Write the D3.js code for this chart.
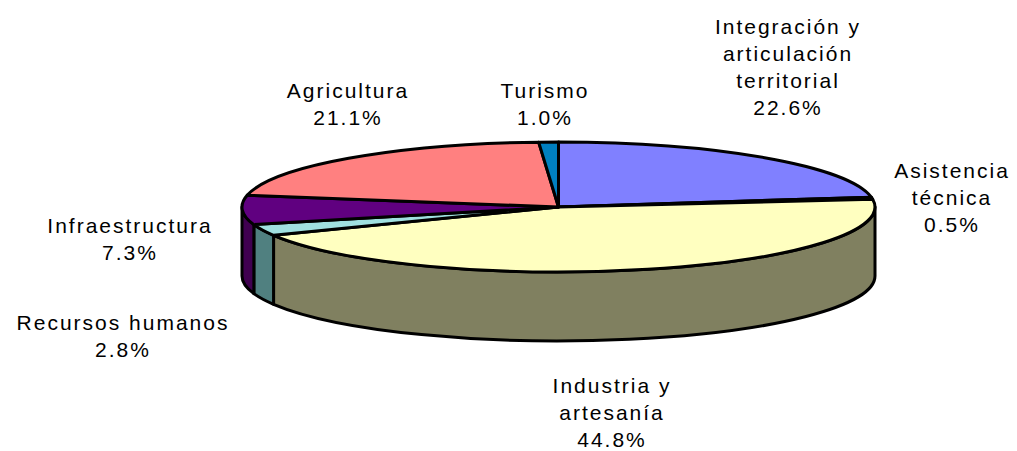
<!DOCTYPE html>
<html>
<head>
<meta charset="utf-8">
<script src="https://cdn.jsdelivr.net/npm/d3@7"></script>
<style>
  html, body { margin: 0; padding: 0; background: #fff; }
  svg { display: block; }
</style>
</head>
<body>
<svg id="chart" width="1017" height="451"></svg>
<script>
// ---- data ----
const categories = ["Integración y articulación territorial", "Asistencia técnica", "Industria y artesanía", "Recursos humanos", "Infraestructura", "Agricultura", "Turismo"];
const values = [22.6, 0.5, 44.8, 2.8, 7.3, 21.1, 1.0];
const labelLines = [["Integración y", "articulación", "territorial"], ["Asistencia", "técnica"], ["Industria y", "artesanía"], ["Recursos humanos"], ["Infraestructura"], ["Agricultura"], ["Turismo"]];
const pctLabels = ["22.6%", "0.5%", "44.8%", "2.8%", "7.3%", "21.1%", "1.0%"];

// ---- styles / layout ----
const topColors  = ["#8080FF", "#802060", "#FFFFC0", "#A0E0E0", "#600080", "#FF8080", "#0080C0"];
const sideColors = ["#404080", "#401030", "#808060", "#508080", "#400050", "#804040", "#004060"];
const labelPos = [[788, 34], [952, 178], [612, 393], [123, 330], [130, 233], [348, 98], [545, 98]];
const lineH = 27;

const cx = 558.5, cy = 207, rx = 316.5, ry = 65, depth = 69;

const svg = d3.select("#chart");
const data = categories.map((c, i) => ({ name: c, value: values[i], i }));
const pie = d3.pie().value(d => d.value).sort(null).startAngle(0).endAngle(2 * Math.PI);
const arcs = pie(data);

const pt = (a, dy = 0) => [cx + rx * Math.sin(a), cy - ry * Math.cos(a) + dy];
const f = p => p[0].toFixed(2) + "," + p[1].toFixed(2);

// outer walls (front half only)
const sides = arcs.map(d => {
  const s = Math.max(d.startAngle, Math.PI / 2);
  const e = Math.min(d.endAngle, 3 * Math.PI / 2);
  return { d, s, e };
}).filter(o => o.e > o.s);

svg.append("g").selectAll("path").data(sides).join("path")
  .attr("d", o => {
    const p0 = pt(o.s), p1 = pt(o.e), q1 = pt(o.e, depth), q0 = pt(o.s, depth);
    return `M${f(p0)}A${rx},${ry} 0 0 1 ${f(p1)}L${f(q1)}A${rx},${ry} 0 0 0 ${f(q0)}Z`;
  })
  .attr("fill", o => sideColors[o.d.data.i])
  .attr("stroke", "#000").attr("stroke-width", 3).attr("stroke-linejoin", "round");

// top faces
svg.append("g").selectAll("path").data(arcs).join("path")
  .attr("d", d => {
    const large = (d.endAngle - d.startAngle) > Math.PI ? 1 : 0;
    return `M${cx},${cy}L${f(pt(d.startAngle))}A${rx},${ry} 0 ${large} 1 ${f(pt(d.endAngle))}Z`;
  })
  .attr("fill", d => topColors[d.data.i])
  .attr("stroke", "#000").attr("stroke-width", 3).attr("stroke-linejoin", "round");

// labels
const lg = svg.append("g")
  .attr("font-family", "'Liberation Sans', Arial, sans-serif")
  .attr("font-size", 21)
  .attr("letter-spacing", "2px")
  .attr("fill", "#000")
  .attr("text-anchor", "middle");

data.forEach((d, i) => {
  const lines = labelLines[i].concat([pctLabels[i]]);
  const t = lg.append("text");
  lines.forEach((ln, k) => {
    t.append("tspan").attr("x", labelPos[i][0]).attr("y", labelPos[i][1] + k * lineH).text(ln);
  });
});
</script>
</body>
</html>
